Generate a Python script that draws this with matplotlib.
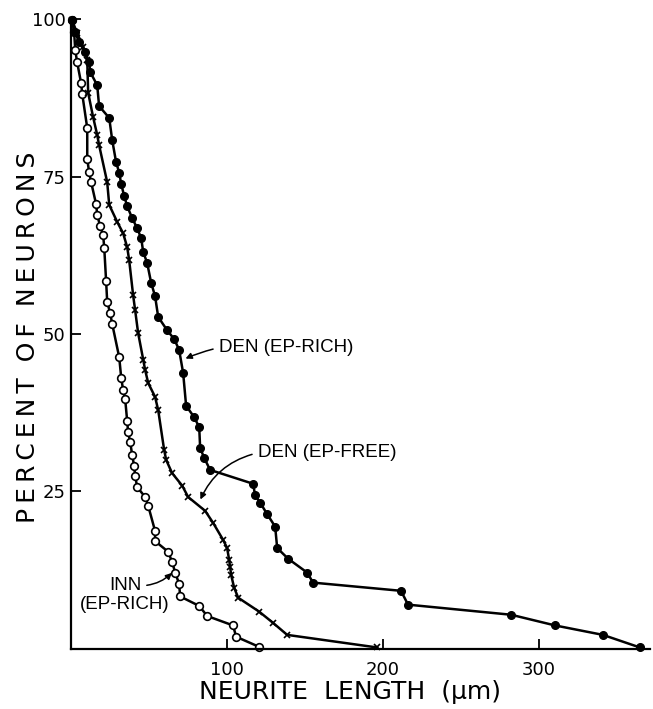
import numpy as np
import matplotlib.pyplot as plt

plt.rcParams['font.family'] = ['DejaVu Sans']

# DEN (EP-RICH), filled circles
den_rich_x = [0.6, 2.6, 5.1, 9.0, 11.5, 12.2, 16.7, 17.9, 24.4, 26.3, 28.8, 30.8,
              32.1, 34.0, 35.9, 39.1, 42.3, 44.9, 46.2, 48.7, 51.3, 53.8, 55.8,
              61.5, 66.0, 69.2, 71.8, 73.7, 78.8, 82.1, 82.7, 85.3, 89.1, 116.7,
              117.9, 121.2, 125.6, 130.8, 132.1, 139.1, 151.3, 155.1, 211.5, 216.0,
              282.1, 310.3, 341.0, 364.7]
den_rich_y = [99.8, 97.9, 96.3, 94.8, 93.2, 91.6, 89.5, 86.2, 84.3, 80.8, 77.3, 75.6,
              73.8, 71.9, 70.3, 68.4, 66.8, 65.2, 63.0, 61.3, 58.1, 56.0, 52.7,
              50.6, 49.2, 47.5, 43.8, 38.6, 36.8, 35.2, 31.9, 30.3, 28.4, 26.2,
              24.4, 23.2, 21.4, 19.4, 16.0, 14.3, 12.1, 10.5, 9.2, 7.0,
              5.4, 3.7, 2.2, 0.2]

# DEN (EP-FREE), x markers
den_free_x = [0.6, 3.8, 7.7, 10.3, 10.9, 14.1, 16.7, 17.9, 23.1, 24.4, 29.5, 33.3,
              35.9, 37.2, 39.7, 41.0, 42.9, 46.2, 47.4, 49.4, 53.8, 55.8, 59.6,
              60.9, 64.7, 71.2, 75.0, 85.9, 91.0, 97.4, 100.0, 101.3, 101.9, 102.6,
              104.5, 107.1, 120.5, 129.5, 138.5, 196.2]
den_free_y = [99.8, 97.8, 95.6, 93.5, 88.3, 84.4, 81.6, 80.0, 74.1, 70.5, 67.8, 66.0,
              63.8, 61.7, 56.2, 53.8, 50.2, 45.9, 44.3, 42.2, 40.0, 37.9, 31.6,
              30.0, 27.9, 25.9, 24.1, 21.9, 20.0, 17.3, 16.0, 14.1, 13.0, 11.7,
              9.7, 8.1, 5.9, 4.1, 2.2, 0.2]

# INN (EP-RICH), open circles
inn_x = [0.6, 1.9, 2.6, 3.8, 6.4, 7.1, 10.3, 10.3, 11.5, 12.8, 16.0, 16.7, 18.6,
         20.5, 21.2, 22.4, 23.1, 25.0, 26.3, 30.8, 32.1, 33.3, 34.6, 35.9, 36.5,
         37.8, 39.1, 40.4, 41.0, 42.3, 47.4, 49.4, 53.8, 53.8, 62.2, 64.7, 66.7,
         69.2, 69.9, 82.1, 87.2, 103.8, 105.8, 120.5]
inn_y = [99.8, 97.9, 95.1, 93.2, 89.8, 88.1, 82.7, 77.8, 75.7, 74.1, 70.6, 68.9, 67.1,
         65.7, 63.7, 58.4, 55.1, 53.3, 51.6, 46.3, 43.0, 41.1, 39.7, 36.2, 34.4,
         32.9, 30.8, 29.0, 27.5, 25.7, 24.1, 22.7, 18.7, 17.1, 15.4, 13.8, 12.1,
         10.3, 8.3, 6.8, 5.2, 3.7, 1.9, 0.3]

x_ticks = [100, 200, 300]
y_ticks = [25, 50, 75, 100]


def spaced(s, gap='\u2009'):
    # lettering in the original is widely spaced
    return gap.join(s)


fig = plt.figure(figsize=(6.53, 7.09), dpi=100)
ax = fig.add_axes([0.109, 0.085, 0.886, 0.888])

lw = 1.8
ax.plot(inn_x, inn_y, '-o', color='black', lw=lw, ms=5.5, mfc='white', mew=1.2, clip_on=False)
ax.plot(den_free_x, den_free_y, '-x', color='black', lw=lw, ms=4, mew=1.2, clip_on=False)
ax.plot(den_rich_x, den_rich_y, '-o', color='black', lw=lw, ms=5.5, clip_on=False)

# labels with arrows
lab = dict(fontsize=13.5, family='Liberation Sans')
arr = dict(arrowstyle='-|>', color='black', lw=1.1, mutation_scale=9, shrinkA=2, shrinkB=1)
ax.annotate('DEN (EP-RICH)', xy=(72.5, 46.0), xytext=(94.5, 47.8),
            ha='left', va='center', **lab,
            arrowprops=dict(relpos=(0, 0.5), connectionstyle='arc3,rad=0.05', **arr))
ax.annotate('DEN (EP-FREE)', xy=(82.5, 23.5), xytext=(119.5, 31.1),
            ha='left', va='center', **lab,
            arrowprops=dict(relpos=(0, 0.5), connectionstyle='arc3,rad=0.25', **arr))
ax.annotate('INN', xy=(65.2, 12.2), xytext=(34.6, 10.0),
            ha='center', va='center', **lab,
            arrowprops=dict(relpos=(1, 0.5), connectionstyle='arc3,rad=0.2', **arr))
ax.text(34.6, 7.0, '(EP-RICH)', ha='center', va='center', **lab)

ax.set_xlim(0, 371)
ax.set_ylim(0, 100)
ax.set_xticks(x_ticks)
ax.set_yticks(y_ticks)
ax.tick_params(direction='in', length=7, width=1.3, labelsize=13)
ax.tick_params(axis='x', pad=9)
ax.tick_params(axis='y', pad=4)
for s in ['top', 'right']:
    ax.spines[s].set_visible(False)
for s in ['left', 'bottom']:
    ax.spines[s].set_linewidth(1.6)

ax.set_xlabel('NEURITE  LENGTH  (\u03bcm)', fontsize=18, va='top')
ax.xaxis.set_label_coords(0.482, -0.05)
ax.set_ylabel(spaced('PERCENT') + '  ' + spaced('OF') + '  ' + spaced('NEURONS'), fontsize=18)
ax.yaxis.set_label_coords(-0.054, 0.495)

fig.savefig('out.png', dpi=100)
